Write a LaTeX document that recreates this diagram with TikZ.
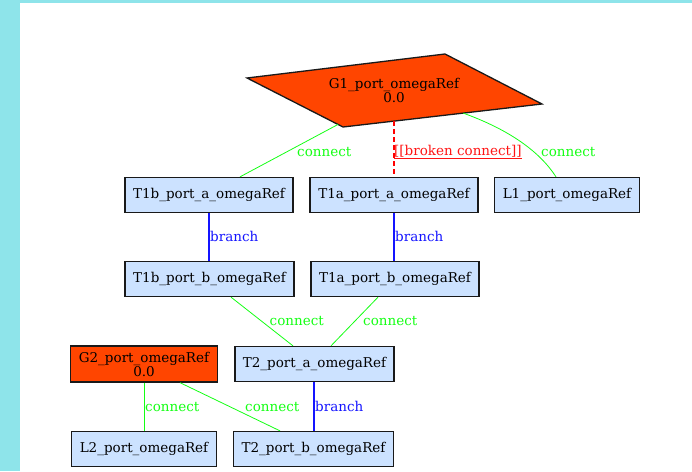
\documentclass[tikz,border=0pt]{standalone}
\usepackage{fontspec}
\setmainfont{DejaVu Serif}
\usetikzlibrary{calc}
\definecolor{bgcyan}{RGB}{142,228,234}
\definecolor{boxblue}{RGB}{204,226,255}
\definecolor{srcorange}{RGB}{255,69,0}
\definecolor{conngreen}{RGB}{20,255,20}
\definecolor{brblue}{RGB}{20,20,255}
\definecolor{brokred}{RGB}{255,20,20}
\tikzset{
  portbox/.style={draw=black!90, line width=1.3pt, fill=boxblue, minimum height=35pt, inner sep=0pt, font=\fontsize{13.5}{14}\selectfont},
  srcbox/.style={portbox, fill=srcorange, align=center, font=\fontsize{13.5}{14}\selectfont},
  conn/.style={draw=conngreen, line width=0.8pt},
  branchedge/.style={draw=brblue, line width=1.1pt},
  brokenedge/.style={draw=red, line width=2pt, dash pattern=on 5pt off 3pt},
  connlbl/.style={text=conngreen, anchor=west, inner sep=0pt, font=\fontsize{13.5}{14}\selectfont},
  brlbl/.style={text=brblue, anchor=west, inner sep=0pt, font=\fontsize{13.5}{14}\selectfont},
  brokenlbl/.style={text=brokred, anchor=west, inner sep=0pt, font=\fontsize{13.5}{14}\selectfont},
}
\begin{document}
\begin{tikzpicture}[x=1pt,y=-1pt]
\useasboundingbox (0,0) rectangle (692,471);
\fill[bgcyan] (0,0) rectangle (692,3);
\fill[bgcyan] (0,0) rectangle (20,471);
% G1 parallelogram
\coordinate (P1) at (247,78);
\coordinate (P2) at (445,54);
\coordinate (P3) at (542,104);
\coordinate (P4) at (343,127);
\draw[fill=srcorange, line width=1.3pt, draw=black!90, line join=miter] (P1) -- (P2) -- (P3) -- (P4) -- cycle;
\node[align=center, inner sep=0pt, font=\fontsize{13.5}{14}\selectfont] (G1) at (394,90) {G1\_port\_omegaRef\\0.0};
\coordinate (G1left) at ($(P1)!0.948!(P4)$);
\coordinate (G1mid) at (393.5,121);
\coordinate (G1right) at ($(P4)!0.604!(P3)$);
% boxes
\node[portbox, minimum width=168pt] (T1ba) at (209,195) {T1b\_port\_a\_omegaRef};
\node[portbox, minimum width=168pt] (T1aa) at (394,195) {T1a\_port\_a\_omegaRef};
\node[portbox, minimum width=145pt] (L1) at (567,195) {L1\_port\_omegaRef};
\node[portbox, minimum width=169pt] (T1bb) at (209.5,279) {T1b\_port\_b\_omegaRef};
\node[portbox, minimum width=168pt] (T1ab) at (395,279) {T1a\_port\_b\_omegaRef};
\node[srcbox, minimum width=147pt, minimum height=36pt] (G2) at (144,364) {G2\_port\_omegaRef\\0.0};
\node[portbox, minimum width=159pt] (T2a) at (314.5,364) {T2\_port\_a\_omegaRef};
\node[portbox, minimum width=145pt] (L2) at (144,449) {L2\_port\_omegaRef};
\node[portbox, minimum width=160pt] (T2b) at (313.5,449) {T2\_port\_b\_omegaRef};
% edges
\draw[conn] (G1left) -- (T1ba.north -| 240,0);
\draw[brokenedge] (G1mid) -- (T1aa.north -| G1mid);
\draw[conn] (G1right) .. controls (510,130) and (540,152) .. (L1.north -| 556,0);
\draw[branchedge] (T1ba.south -| 209,0) -- (T1bb.north -| 209,0);
\draw[branchedge] (T1aa.south -| 394,0) -- (T1ab.north -| 394,0);
\draw[conn] (T1bb.south -| 231,0) -- (T2a.north -| 293,0);
\draw[conn] (T1ab.south -| 378,0) -- (T2a.north -| 331,0);
\draw[conn] (G2.south -| 144,0) -- (L2.north -| 144,0);
\draw[conn] (G2.south -| 180,0) -- (T2b.north -| 280,0);
\draw[branchedge] (T2a.south -| 314,0) -- (T2b.north -| 314,0);
% labels
\node[connlbl] (lbl1) at (297,152) {connect};
\node[brokenlbl] (lbl2) at (394,152) {\underline{[[broken connect]]}};
\node[connlbl] (lbl3) at (541,152) {connect};
\node[brlbl] (lbl4) at (210,236) {branch};
\node[brlbl] (lbl5) at (395,236) {branch};
\node[connlbl] (lbl6) at (269.5,320.5) {connect};
\node[connlbl] (lbl7) at (363,320.5) {connect};
\node[connlbl] (lbl8) at (145,406.5) {connect};
\node[connlbl] (lbl9) at (245,406.5) {connect};
\node[brlbl] (lbl10) at (315,406.5) {branch};
\end{tikzpicture}
\end{document}
